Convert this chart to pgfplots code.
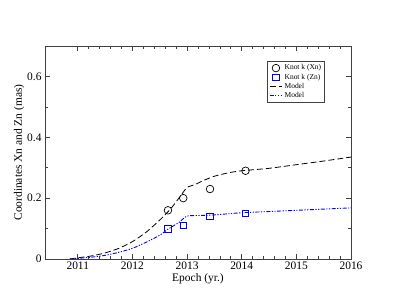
\documentclass[border=0pt]{standalone}
\usepackage{fontspec}
\setmainfont{Liberation Serif}
\usepackage{pgfplots}
\pgfplotsset{compat=1.18}
\begin{document}
\begin{tikzpicture}
\path[use as bounding box] (-45bp,-46bp) rectangle (350bp,259bp);
\begin{axis}[
  at={(0,0)}, anchor=south west,
  scale only axis, width=306bp, height=213bp,
  xmin=2010.4, xmax=2016, ymin=0, ymax=0.7,
  xtick={2011,2012,2013,2014,2015,2016},
  minor x tick num=4,
  ytick={0,0.2,0.4,0.6},
  minor y tick num=1,
  tick align=inside,
  major tick length=5bp, minor tick length=3bp,
  axis line style={black!75, line width=0.9pt},
  every tick/.style={black!75, line width=0.7pt},
  tick label style={font=\fontsize{11.5}{13}\selectfont},
  xticklabel style={yshift=1bp},
  /pgf/number format/assume math mode=true,
  xticklabel style={/pgf/number format/1000 sep={}},
  yticklabel style={/pgf/number format/fixed},
  xlabel={Epoch (yr.)},
  ylabel={Coordinates Xn and Zn (mas)},
  label style={font=\fontsize{11.5}{13}\selectfont},
  xlabel style={yshift=3bp},
  ylabel style={yshift=-4bp},
  legend style={at={(0.915,0.93)}, anchor=north east, font=\fontsize{7.5}{9}\selectfont,
     draw=black!75, line width=0.7pt, row sep=-1.5bp, inner sep=1.5bp},
  legend cell align=left,
  legend image code/.code={\draw[mark repeat=2,mark phase=2,#1] plot coordinates {(0cm,0cm) (0.22cm,0cm) (0.44cm,0cm)};},
]
\addplot[only marks, mark=o, mark size=3.8bp, draw=black, mark options={draw=black, line width=0.7pt}]
  coordinates {(2012.65,0.16) (2012.93,0.20) (2013.42,0.23) (2014.07,0.29)};
\addlegendentry{Knot k (Xn)}
\addplot[only marks, mark=square, mark size=3.3bp, draw=blue, mark options={draw=blue, line width=0.7pt}]
  coordinates {(2012.65,0.10) (2012.93,0.11) (2013.42,0.14) (2014.07,0.15)};
\addlegendentry{Knot k (Zn)}
\addplot[draw=black, line width=0.8pt, dash pattern=on 6bp off 3bp, smooth, tension=0.4]
  coordinates {(2010.85,0) (2011,0.004) (2011.25,0.01) (2011.5,0.02) (2011.75,0.035) (2012,0.057)
  (2012.25,0.088) (2012.5,0.128) (2012.7,0.165) (2012.9,0.212) (2013,0.235) (2013.15,0.245)
  (2013.3,0.258) (2013.5,0.272) (2013.75,0.283) (2014,0.29) (2014.5,0.298) (2015,0.31)
  (2015.5,0.322) (2016,0.335)};
\addlegendentry{Model}
\addplot[draw=blue, line width=0.9pt, dash pattern=on 4bp off 1.5bp on 1.2bp off 1.5bp on 1.2bp off 1.5bp, smooth, tension=0.4,
  legend image code/.code={\pgfsetlinewidth{0.9pt}\pgfsetdash{{4bp}{1.5bp}{1.2bp}{1.5bp}{1.2bp}{1.5bp}}{0pt}\pgfsetstrokecolor{blue}\pgfpathmoveto{\pgfpoint{0cm}{0cm}}\pgfpathlineto{\pgfpoint{0.44cm}{0cm}}\pgfusepath{stroke}}]
  coordinates {(2010.85,0) (2011,0.002) (2011.25,0.006) (2011.5,0.012) (2011.75,0.022) (2012,0.035)
  (2012.25,0.055) (2012.5,0.078) (2012.65,0.098) (2012.85,0.12) (2013,0.141) (2013.25,0.143)
  (2013.5,0.145) (2014,0.152) (2014.5,0.156) (2015,0.16) (2015.5,0.164) (2016,0.168)};
\addlegendentry{Model}
\end{axis}
\end{tikzpicture}
\end{document}
